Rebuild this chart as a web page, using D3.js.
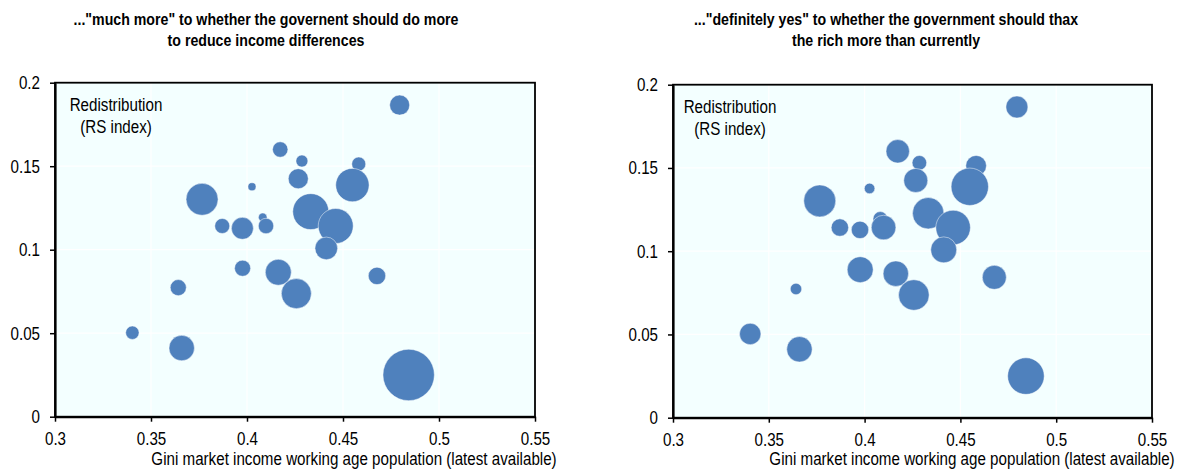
<!DOCTYPE html>
<html>
<head>
<meta charset="utf-8">
<script src="https://cdn.jsdelivr.net/npm/d3@7"></script>
<style>
  html, body { margin: 0; padding: 0; background: #fff; }
  svg { display: block; }
  text { font-family: "Liberation Sans", Arial, sans-serif; fill: #000; }
</style>
</head>
<body>
<svg id="chart" width="1180" height="471"></svg>
<script>
// Countries: market-income Gini (working age) vs. redistribution (RS index)
const gini = [0.4795, 0.4173, 0.4286, 0.4582, 0.4267, 0.4549, 0.4026, 0.3766, 0.4332, 0.4462, 0.3871, 0.3976,
              0.4082, 0.4099, 0.4413, 0.3977, 0.4163, 0.4677, 0.4257, 0.3642, 0.3403, 0.3660, 0.4842];
const rsIndex = [0.1866, 0.1600, 0.1531, 0.1513, 0.1425, 0.1387, 0.1377, 0.1302, 0.1228, 0.1142, 0.1142, 0.1128,
                 0.1194, 0.1142, 0.1008, 0.0889, 0.0865, 0.0843, 0.0737, 0.0773, 0.0503, 0.0411, 0.0250];
// Bubble size: share of respondents answering "much more"
const shareMuchMore = [9.8, 5.8, 3.5, 4.8, 9.8, 27.2, 1.6, 25.0, 31.6, 29.9, 5.5, 11.8,
                       1.8, 5.8, 12.5, 6.3, 16.5, 7.4, 22.0, 6.3, 4.4, 15.8, 64.5];
// Bubble size: share of respondents answering "definitely yes"
const shareDefinitelyYes = [11.8, 13.4, 5.2, 10.4, 14.1, 34.1, 2.7, 25.0, 24.1, 29.2, 7.4, 7.4,
                            5.2, 14.8, 16.5, 16.5, 15.8, 14.1, 22.9, 3.2, 11.2, 15.8, 32.7];

const xTicks = [0.3, 0.35, 0.4, 0.45, 0.5, 0.55];
const yTicks = [0, 0.05, 0.1, 0.15, 0.2];
const xTickLabels = ["0.3", "0.35", "0.4", "0.45", "0.5", "0.55"];
const yTickLabels = ["0", "0.05", "0.1", "0.15", "0.2"];

const panelTitles = [
  ['..."much more" to whether the governent should do more', 'to reduce income differences'],
  ['..."definitely yes" to whether the government should thax', 'the rich more than currently']
];
const xAxisTitle = "Gini market income working age population (latest available)";
const yAxisTitle = ["Redistribution", "(RS index)"];

const NARROW = 0.82;            // horizontal squeeze to mimic a narrow face
const BUBBLE = "#4f81bd";
const PLOT_BG = "#f3ffff";

const svg = d3.select("#chart");
const size = d3.scaleSqrt().domain([0, 64.5]).range([0, 25.7]);

const panels = [
  { left: 55,  right: 535,  top: 82.7, bottom: 416.7, sizes: shareMuchMore,
    titleX: 266, labelX: 116, labelY: 111, axisTitleX: 354 },
  { left: 673, right: 1152, top: 84.7, bottom: 417.7, sizes: shareDefinitelyYes,
    titleX: 886, labelX: 730, labelY: 113, axisTitleX: 972 }
];

function narrowText(g, x, y, str, opts) {
  const t = g.append("text")
    .attr("transform", `translate(${x},${y}) scale(${NARROW},1)`)
    .attr("text-anchor", opts.anchor || "middle")
    .style("font-size", opts.size + "px")
    .text(str);
  if (opts.bold) t.style("font-weight", "bold");
  return t;
}

panels.forEach((p, i) => {
  const g = svg.append("g");
  const x = d3.scaleLinear().domain([0.3, 0.55]).range([p.left, p.right]);
  const y = d3.scaleLinear().domain([0, 0.2]).range([p.bottom, p.top]);

  // plot background
  g.append("rect")
    .attr("x", p.left).attr("y", p.top)
    .attr("width", p.right - p.left).attr("height", p.bottom - p.top)
    .attr("fill", PLOT_BG);

  // white gridlines
  g.append("g").selectAll("line.vx")
    .data(xTicks.slice(1, -1)).join("line")
    .attr("x1", d => x(d)).attr("x2", d => x(d))
    .attr("y1", p.top).attr("y2", p.bottom)
    .attr("stroke", "#fff").attr("stroke-width", 1.2);
  g.append("g").selectAll("line.hy")
    .data(yTicks.slice(1, -1)).join("line")
    .attr("x1", p.left).attr("x2", p.right)
    .attr("y1", d => y(d)).attr("y2", d => y(d))
    .attr("stroke", "#fff").attr("stroke-width", 1.2);

  // bubbles
  const pts = gini.map((gv, k) => ({ gx: gv, ry: rsIndex[k], s: p.sizes[k] }));
  g.append("g").selectAll("circle")
    .data(pts).join("circle")
    .attr("cx", d => x(d.gx)).attr("cy", d => y(d.ry))
    .attr("r", d => size(d.s))
    .attr("fill", BUBBLE)
    .attr("stroke", "#ffffff").attr("stroke-opacity", 0.6).attr("stroke-width", 0.8);

  // frame
  g.append("rect")
    .attr("x", p.left).attr("y", p.top)
    .attr("width", p.right - p.left).attr("height", p.bottom - p.top)
    .attr("fill", "none").attr("stroke", "#000").attr("stroke-width", 1.8);

  // axes
  const ax = g.append("g").attr("transform", `translate(0,${p.bottom})`)
    .call(d3.axisBottom(x).tickValues(xTicks)
      .tickFormat((d, k) => xTickLabels[k]).tickSize(5).tickPadding(10).tickSizeOuter(0));
  const ay = g.append("g").attr("transform", `translate(${p.left},0)`)
    .call(d3.axisLeft(y).tickValues(yTicks)
      .tickFormat((d, k) => yTickLabels[k]).tickSize(5).tickPadding(10).tickSizeOuter(0));
  [ax, ay].forEach(a => {
    a.select(".domain").attr("stroke", "#000").attr("stroke-width", 2.2);
    a.selectAll(".tick line").attr("stroke", "#000").attr("stroke-width", 1.5);
    a.selectAll(".tick text").style("font-size", "18.5px")
      .style("font-family", '"Liberation Sans", Arial, sans-serif').attr("fill", "#000");
  });
  ax.selectAll(".tick text").attr("transform", `scale(${NARROW},1)`);
  ay.selectAll(".tick text").each(function () {
    const t = d3.select(this);
    t.attr("x", +t.attr("x") / NARROW).attr("transform", `scale(${NARROW},1)`);
  });

  // titles
  narrowText(g, p.titleX, 25, panelTitles[i][0], { size: 17.3, bold: true });
  narrowText(g, p.titleX, 46, panelTitles[i][1], { size: 17.3, bold: true });

  // inner axis label
  narrowText(g, p.labelX, p.labelY, yAxisTitle[0], { size: 18.5 });
  narrowText(g, p.labelX, p.labelY + 22, yAxisTitle[1], { size: 18.5 });

  // x axis title
  narrowText(g, p.axisTitleX, 465, xAxisTitle, { size: 18.5 });
});
</script>
</body>
</html>
